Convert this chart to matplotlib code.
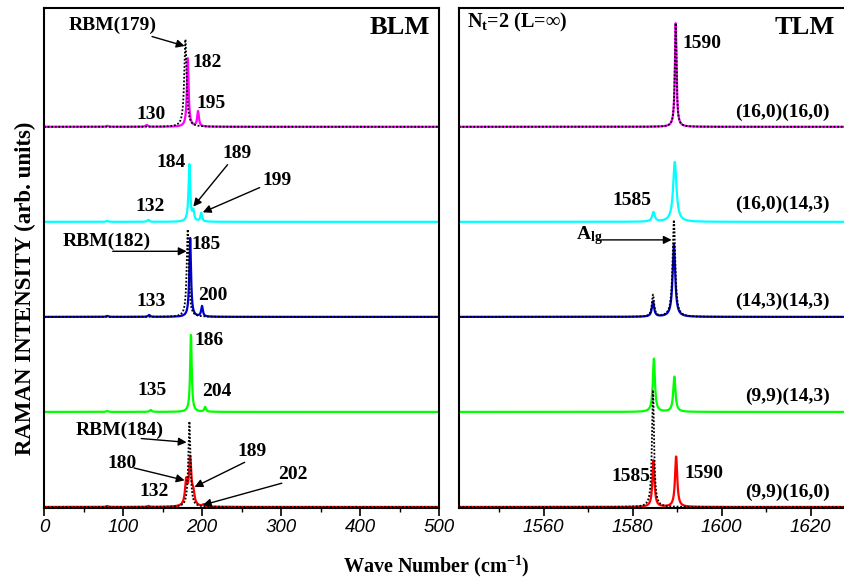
import numpy as np
import matplotlib.pyplot as plt
from matplotlib.ticker import MultipleLocator

plt.rcParams['font.family'] = ['Liberation Serif', 'DejaVu Serif']
plt.rcParams['mathtext.fontset'] = 'custom'
plt.rcParams['mathtext.rm'] = 'Liberation Serif:bold'
plt.rcParams['mathtext.it'] = 'Liberation Serif:bold'
plt.rcParams['mathtext.bf'] = 'Liberation Serif:bold'
plt.rcParams['axes.unicode_minus'] = False

# strips from top to bottom
tubes = ['(16,0)(16,0)', '(16,0)(14,3)', '(14,3)(14,3)', '(9,9)(14,3)', '(9,9)(16,0)']
colors = ['#ff00ff', '#00ffff', '#0000cc', '#00ff00', '#ff0000']
offsets = [4, 3, 2, 1, 0]

# BLM peaks (position, height, half width)
blm_pos = [[80, 130, 182, 195], [80, 132, 184, 189, 199], [80, 133, 185, 200],
           [80, 135, 186, 204], [80, 132, 180, 185, 189, 202]]
blm_amp = [[0.01, 0.02, 0.72, 0.16], [0.01, 0.02, 0.60, 0.10, 0.09], [0.01, 0.02, 0.83, 0.11],
           [0.01, 0.02, 0.81, 0.05], [0.01, 0.01, 0.25, 0.49, 0.12, 0.02]]
blm_wid = [[1.5, 1.5, 1.3, 1.3], [1.5, 1.5, 1.3, 1.3, 1.3], [1.5, 1.5, 1.3, 1.3],
           [1.5, 1.5, 1.2, 1.3], [1.5, 1.5, 1.8, 1.8, 1.8, 1.8]]
# black dotted reference (isolated tube) RBM
blm_ref_strip = [0, 2, 4]
blm_ref_pos = [179, 182, 184]
blm_ref_amp = [0.92, 0.92, 0.90]
blm_ref_wid = [1.8, 1.6, 1.6]

# TLM peaks
tlm_pos = [[1589.7], [1584.7, 1589.5], [1584.6, 1589.3], [1584.8, 1589.4], [1584.7, 1589.8]]
tlm_amp = [[1.09], [0.10, 0.63], [0.16, 0.76], [0.56, 0.37], [0.49, 0.53]]
tlm_wid = [[0.22], [0.35, 0.45], [0.3, 0.35], [0.28, 0.3], [0.28, 0.3]]
tlm_ref_strip = [0, 2, 2, 4]
tlm_ref_pos = [1589.7, 1584.6, 1589.3, 1584.6]
tlm_ref_amp = [1.09, 0.23, 1.02, 1.23]
tlm_ref_wid = [0.22, 0.3, 0.35, 0.28]


def lorentz(x, pos, amp, wid):
    y = np.zeros_like(x)
    for p, a, w in zip(pos, amp, wid):
        y += a * w**2 / ((x - p)**2 + w**2)
    return y


fig = plt.figure(figsize=(8.44, 5.81), dpi=100)
W, H = 844.0, 581.0
ax1 = fig.add_axes([44 / W, (H - 508) / H, 395 / W, 500 / H])
ax2 = fig.add_axes([459 / W, (H - 508) / H, 396 / W, 500 / H])

xl = np.linspace(0, 500, 5001)
xr = np.linspace(1540, 1632, 4601)

for i in range(5):
    ax1.plot(xl, offsets[i] + lorentz(xl, blm_pos[i], blm_amp[i], blm_wid[i]),
             color=colors[i], lw=1.6)
    ax2.plot(xr, offsets[i] + lorentz(xr, tlm_pos[i], tlm_amp[i], tlm_wid[i]),
             color=colors[i], lw=1.6)

for k, s in enumerate(blm_ref_strip):
    ax1.plot(xl, offsets[s] + lorentz(xl, [blm_ref_pos[k]], [blm_ref_amp[k]], [blm_ref_wid[k]]),
             color='k', lw=1.3, ls=(0, (1, 1)))
for s in sorted(set(tlm_ref_strip)):
    idx = [k for k in range(len(tlm_ref_strip)) if tlm_ref_strip[k] == s]
    ax2.plot(xr, offsets[s] + lorentz(xr, [tlm_ref_pos[k] for k in idx],
                                      [tlm_ref_amp[k] for k in idx],
                                      [tlm_ref_wid[k] for k in idx]),
             color='k', lw=1.3, ls=(0, (1, 1)))

ax1.set_xlim(0, 500)
ax2.set_xlim(1541, 1630)
ax1.xaxis.set_major_locator(MultipleLocator(100))
ax1.xaxis.set_minor_locator(MultipleLocator(50))
ax2.xaxis.set_minor_locator(MultipleLocator(10))
ax2.set_xticks([1560, 1580, 1600, 1620])
for ax in (ax1, ax2):
    ax.set_ylim(-0.011, 5.25)
    ax.set_yticks([])
    ax.tick_params(axis='x', which='major', direction='out', length=6, width=1.2, pad=2)
    ax.tick_params(axis='x', which='minor', direction='out', length=3, width=1.0)
    for sp in ax.spines.values():
        sp.set_linewidth(1.5)
    for lab in ax.get_xticklabels():
        lab.set_fontfamily('Liberation Sans')
        lab.set_fontstyle('italic')
        lab.set_fontsize(13.5)

tb = dict(fontweight='bold', fontsize=14)
arr = dict(arrowstyle='-|>', color='k', lw=1.0, mutation_scale=12, shrinkA=0, shrinkB=0)

# BLM labels
ax1.text(488, 5.04, 'BLM', fontweight='bold', fontsize=19, ha='right', va='center')
ax1.annotate('RBM(179)', xy=(178, 4.85), xytext=(87, 5.07), ha='center', va='center', arrowprops=arr, **tb)
ax1.text(188, 4.68, '182', ha='left', va='center', **tb)
ax1.text(193, 4.25, '195', ha='left', va='center', **tb)
ax1.text(135, 4.13, '130', ha='center', va='center', **tb)

ax1.text(161, 3.62, '184', ha='center', va='center', **tb)
ax1.annotate('189', xy=(189, 3.16), xytext=(244, 3.72), ha='center', va='center', arrowprops=arr, **tb)
ax1.annotate('199', xy=(201, 3.1), xytext=(295, 3.44), ha='center', va='center', arrowprops=arr, **tb)
ax1.text(134, 3.16, '132', ha='center', va='center', **tb)

ax1.text(80, 2.8, 'RBM(182)', ha='center', va='center', **tb)
ax1.annotate('', xy=(180.5, 2.69), xytext=(87, 2.69), arrowprops=arr)
ax1.text(187, 2.76, '185', ha='left', va='center', **tb)
ax1.text(136, 2.16, '133', ha='center', va='center', **tb)
ax1.text(214, 2.23, '200', ha='center', va='center', **tb)

ax1.text(190, 1.75, '186', ha='left', va='center', **tb)
ax1.text(137, 1.23, '135', ha='center', va='center', **tb)
ax1.text(219, 1.21, '204', ha='center', va='center', **tb)

ax1.text(96, 0.81, 'RBM(184)', ha='center', va='center', **tb)
ax1.annotate('', xy=(180.5, 0.68), xytext=(123, 0.72), arrowprops=arr)
ax1.text(99, 0.46, '180', ha='center', va='center', **tb)
ax1.annotate('', xy=(178, 0.28), xytext=(114, 0.41), arrowprops=arr)
ax1.text(264, 0.58, '189', ha='center', va='center', **tb)
ax1.annotate('', xy=(190.5, 0.21), xytext=(254, 0.47), arrowprops=arr)
ax1.text(315, 0.34, '202', ha='center', va='center', **tb)
ax1.annotate('', xy=(201, 0.02), xytext=(301, 0.25), arrowprops=arr)
ax1.text(140, 0.16, '132', ha='center', va='center', **tb)

# TLM labels
ax2.text(1542.7, 5.1, r'N$_{\mathregular{t}}$=2 (L=$\infty$)', ha='left', va='center',
         fontweight='bold', fontsize=14.5)
ax2.text(1625.4, 5.04, 'TLM', fontweight='bold', fontsize=19, ha='right', va='center')
ax2.text(1591.2, 4.88, '1590', ha='left', va='center', **tb)
ax2.text(1579.8, 3.22, '1585', ha='center', va='center', **tb)
ax2.annotate('', xy=(1588.8, 2.81), xytext=(1573, 2.81), arrowprops=arr)
ax2.text(1567.4, 2.86, r'A$_{\mathregular{lg}}$', ha='left', va='center', **tb)
ax2.text(1584.0, 0.32, '1585', ha='right', va='center', **tb)
ax2.text(1591.7, 0.35, '1590', ha='left', va='center', **tb)
tube_y = [4.15, 3.18, 2.16, 1.16, 0.15]
for i in range(5):
    ax2.text(1624.3, tube_y[i], tubes[i], ha='right', va='center', fontweight='bold', fontsize=14)

fig.text(25 / W, 1 - 288 / H, 'RAMAN INTENSITY (arb. units)', rotation=90, ha='center', va='center',
         fontweight='bold', fontsize=16.5)
fig.text(436 / W, 1 - 566 / H, r'Wave Number (cm$^{\mathregular{-1}}$)', ha='center', va='center',
         fontweight='bold', fontsize=14.5)

fig.savefig('out.png', dpi=100)
